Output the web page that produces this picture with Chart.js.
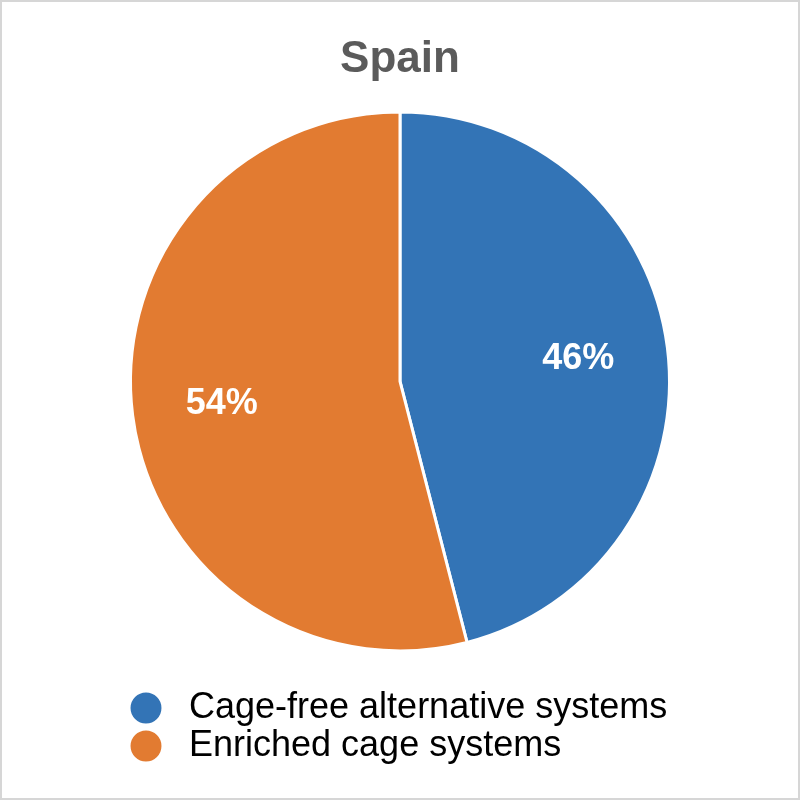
<!DOCTYPE html>
<html lang="en">
  <head>
    <meta charset="UTF-8" />
    <title>Spain</title>
    <script src="https://cdn.jsdelivr.net/npm/chart.js"></script>
    <style>
      body {
        margin: 0;
        background-color: #fff;
      }
      .frame {
        width: 800px;
        height: 800px;
        box-sizing: border-box;
        border: 2px solid #d6d6d6;
      }
    </style>
  </head>
  <body>
    <div class="frame">
      <canvas id="pieChart" width="796" height="796"></canvas>
    </div>
    <script>
      // chart data
      const categories = ["Cage-free alternative systems", "Enriched cage systems"];
      const shares = [46, 54];
      const sliceColors = ["#3374b6", "#e27b31"];

      const FONT = "'Liberation Sans', Arial, Helvetica, sans-serif";

      // draw the percentage inside each slice
      const sliceLabels = {
        id: "sliceLabels",
        afterDatasetsDraw(chart) {
          const ctx = chart.ctx;
          const meta = chart.getDatasetMeta(0);
          ctx.save();
          ctx.fillStyle = "#fff";
          ctx.font = "bold 36px " + FONT;
          ctx.textAlign = "center";
          ctx.textBaseline = "middle";
          meta.data.forEach((arc, i) => {
            const p = arc.getProps(["x", "y", "startAngle", "endAngle", "outerRadius"], true);
            const mid = (p.startAngle + p.endAngle) / 2;
            const r = p.outerRadius * 0.667;
            ctx.fillText(shares[i] + "%", p.x + Math.cos(mid) * r, p.y + Math.sin(mid) * r);
          });
          ctx.restore();
        },
      };

      new Chart(document.getElementById("pieChart"), {
        type: "pie",
        data: {
          labels: categories,
          datasets: [
            {
              data: shares,
              backgroundColor: sliceColors,
              borderColor: "#fff",
              borderWidth: 3,
            },
          ],
        },
        options: {
          responsive: false,
          animation: false,
          layout: {
            padding: { left: 127, right: 127, top: 0, bottom: 24 },
          },
          plugins: {
            title: {
              display: true,
              text: "Spain",
              color: "#5b5b5b",
              font: { family: FONT, size: 44, weight: "bold", lineHeight: 0.7 },
              padding: { top: 42, bottom: 0 },
            },
            legend: {
              position: "bottom",
              align: "start",
              labels: {
                color: "#000",
                font: { family: FONT, size: 36 },
                usePointStyle: true,
                pointStyle: "circle",
                boxWidth: 30,
                boxHeight: 24,
                padding: 2,
                generateLabels(chart) {
                  const items = Chart.overrides.pie.plugins.legend.labels.generateLabels(chart);
                  items.forEach((it) => (it.text = " " + it.text));
                  return items;
                },
              },
            },
            tooltip: { enabled: false },
          },
        },
        plugins: [sliceLabels],
      });
    </script>
  </body>
</html>
